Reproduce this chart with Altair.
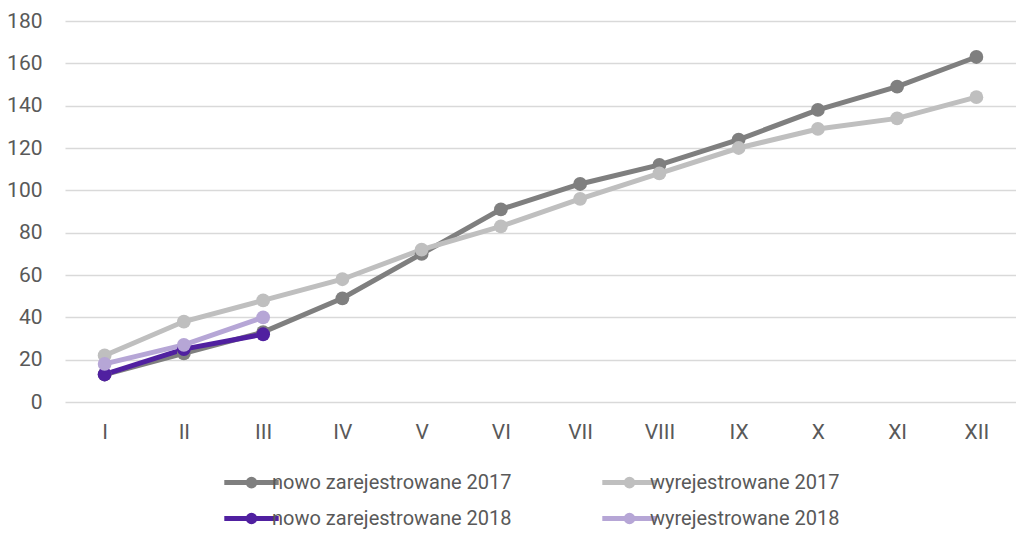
import altair as alt
import pandas as pd

months = ["I", "II", "III", "IV", "V", "VI", "VII", "VIII", "IX", "X", "XI", "XII"]
series_names = ["nowo zarejestrowane 2017", "wyrejestrowane 2017",
                "nowo zarejestrowane 2018", "wyrejestrowane 2018"]
nowo_2017 = [13, 23, 33, 49, 70, 91, 103, 112, 124, 138, 149, 163]
wyrej_2017 = [22, 38, 48, 58, 72, 83, 96, 108, 120, 129, 134, 144]
nowo_2018 = [13, 25, 32]
wyrej_2018 = [18, 27, 40]
colors = ["#7f7f7f", "#bfbfbf", "#5020a0", "#b6a6d6"]

rows = []
for name, vals in zip(series_names, [nowo_2017, wyrej_2017, nowo_2018, wyrej_2018]):
    for i, v in enumerate(vals):
        rows.append({"miesiac": months[i], "seria": name, "wartosc": v, "kolejnosc": series_names.index(name)})
df = pd.DataFrame(rows)

FONT = "Roboto, sans-serif"
TXT = "#595959"

sym = "M-2,0H2M-0.24,0A0.24,0.24 0 1,1 0.24,0A0.24,0.24 0 1,1 -0.24,0"

chart = alt.Chart(df).mark_line(point=alt.OverlayMarkDef(size=190, filled=True, opacity=1), strokeWidth=5).encode(
    x=alt.X("miesiac:N", sort=months, title=None,
            scale=alt.Scale(type="point", padding=0.5),
            axis=alt.Axis(labelAngle=0, ticks=False, domain=False, grid=False,
                          labelFont=FONT, labelFontSize=21, labelColor=TXT, labelPadding=19)),
    y=alt.Y("wartosc:Q", title=None,
            scale=alt.Scale(domain=[0, 180], nice=False),
            axis=alt.Axis(values=list(range(0, 181, 20)), ticks=False, domain=False,
                          gridColor="#d9d9d9", gridWidth=1.5,
                          labelFont=FONT, labelFontSize=21, labelColor=TXT, labelPadding=23)),
    color=alt.Color("seria:N", sort=series_names,
                    scale=alt.Scale(domain=series_names, range=colors),
                    legend=alt.Legend(title=None, orient="none", legendX=170, legendY=445,
                                      direction="horizontal",
                                      columns=2, columnPadding=80, rowPadding=6,
                                      symbolType=sym, symbolSize=740, symbolStrokeWidth=5,
                                      labelFont=FONT, labelFontSize=20, labelColor=TXT,
                                      labelLimit=400, labelOffset=4, symbolOffset=0)),
    order=alt.Order("kolejnosc:Q"),
).properties(
    width=951, height=381,
    autosize=alt.AutoSizeParams(type="none"),
    padding={"left": 57, "top": 13, "right": 0, "bottom": 127},
).configure_view(stroke=None)

chart.save("out.html", embed_options={"renderer": "svg", "actions": False})
